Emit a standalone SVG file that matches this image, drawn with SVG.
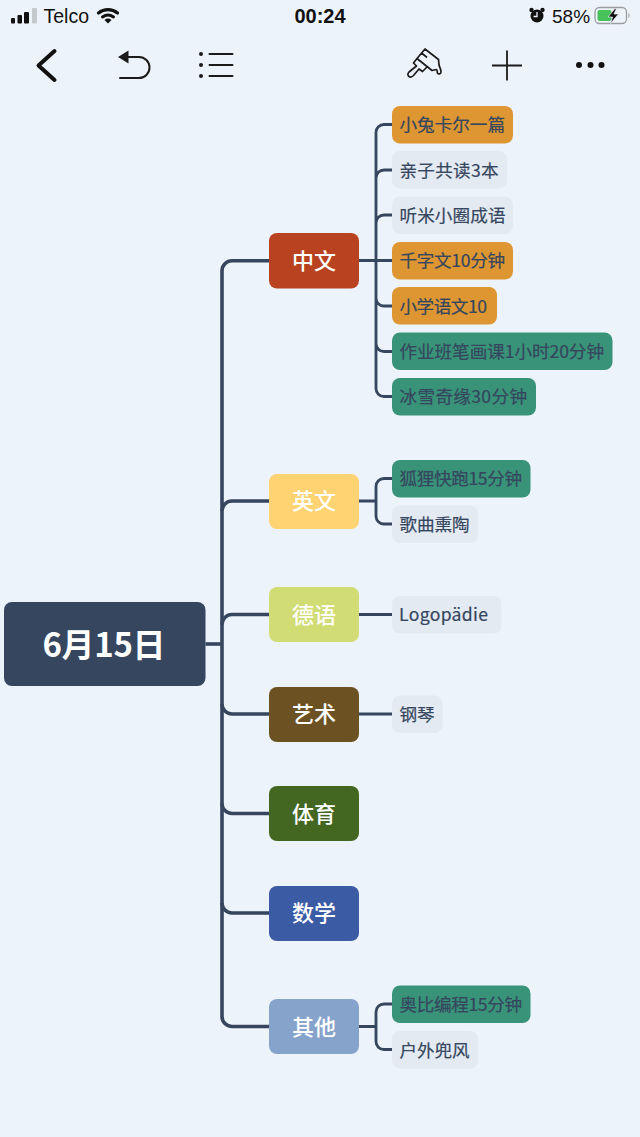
<svg xmlns="http://www.w3.org/2000/svg" width="640" height="1137" viewBox="0 0 640 1137">
<style>
text{font-family:"Noto Sans CJK SC","Noto Sans",sans-serif}
.st{font-family:"Liberation Sans",Arial,sans-serif;font-size:19.500px;fill:#111}
.ic{fill:none;stroke:#1b1b1b;stroke-width:2;stroke-linecap:round;stroke-linejoin:round}
.m{fill:none;stroke:#35465e;stroke-width:3.6}
.s{fill:none;stroke:#35465e;stroke-width:2.8}
.l1{font-size:22px;fill:#fff;text-anchor:middle;font-weight:500}
.l2{font-size:17.6px;fill:#35465e;font-weight:400;stroke:#35465e;stroke-width:.2}
.o{fill:#dd9632}.g{fill:#e4eaf2}.t{fill:#399378}
</style>
<rect width="640" height="1137" fill="#edf3fa"/>
<g id="statusbar">
<rect x="11" y="18" width="4" height="5.5" rx="1" fill="#111"/><rect x="17.500" y="15" width="4.500" height="8.500" rx="1" fill="#111"/><rect x="24" y="12" width="5" height="11.500" rx="1" fill="#111"/><rect x="32" y="8" width="5" height="15.500" rx="1" fill="#c4c9cd"/>
<text class="st" x="43.500" y="23">Telco</text>
<path d="M98.500 13a15 15 0 0 1 19 0" fill="none" stroke="#111" stroke-width="3.200" stroke-linecap="round"/><path d="M102.500 17a9.500 9.500 0 0 1 11 0" fill="none" stroke="#111" stroke-width="3" stroke-linecap="round"/><path d="M104.500 20a5.500 5.500 0 0 1 7 0l-3.500 3.500z" fill="#111"/>
<text class="st" x="320" y="23" text-anchor="middle" style="font-weight:700;font-size:20px">00:24</text>
<circle cx="537" cy="16" r="6.500" fill="#111"/><circle cx="531.500" cy="10" r="2.200" fill="#111"/><circle cx="542.500" cy="10" r="2.200" fill="#111"/><path d="M537 12v4.500h-3.500" fill="none" stroke="#edf3fa" stroke-width="1.300"/>
<text class="st" x="552" y="23" style="font-size:19px">58%</text>
<rect x="595" y="7.500" width="31.500" height="16" rx="4.500" fill="none" stroke="#9a9ea2" stroke-width="1.300"/><rect x="597.500" y="10" width="14" height="11" rx="2" fill="#47c25a"/><path d="M628.500 13c1.500.5 1.500 4.500 0 5z" fill="#9a9ea2"/><path d="M615 8.500l-7 8.500h4.500l-2 6.500 8-9.500h-4.500l2.500-5.500z" fill="#111" stroke="#edf3fa" stroke-width=".7"/>
</g>
<g id="toolbar">
<path d="M54.500 51 38.500 65.500 54.500 80" fill="none" stroke="#111" stroke-width="4" stroke-linecap="round" stroke-linejoin="round"/>
<path d="M128.500 50.500v13l-10.500-6.500z" fill="#1b1b1b"/><path class="ic" d="M127 57h12a10 10 0 0 1 0 21h-19"/>
<circle cx="201" cy="54" r="2" fill="#1b1b1b"/><circle cx="201" cy="65" r="2" fill="#1b1b1b"/><circle cx="201" cy="76" r="2" fill="#1b1b1b"/>
<path class="ic" d="M209.500 54h23M209.500 65h23M209.500 76h23"/>
<path class="ic" style="stroke-width:1.700" d="M425 49 417 58.500 432 70.500l4.500-1c1 0 .5 2.500 1 3.500 1 1.500 3.500 1 3.500-1 0-3-1.500-5-2-7l-.5-5.500zM421.500 53l5 4M417 58.500l-3.500 4.500 3 3-7.500 6c-1.500 1.500-1.500 3.500 0 4.500s3 .5 4.500-1l5.500-6.500 3.500 2.500 4-4"/>
<path d="M507 50.500v30M492 65.500h30" fill="none" stroke="#1b1b1b" stroke-width="1.800"/>
<circle cx="579" cy="65" r="3" fill="#111"/><circle cx="590.500" cy="65" r="3" fill="#111"/><circle cx="601.500" cy="65" r="3" fill="#111"/>
</g>
<g id="connectors">
<path class="m" d="M205.500 644H222"/>
<path class="m" d="M269 260.800H232a10 10 0 0 0-10 10V1016.500a10 10 0 0 0 10 10H269"/>
<path class="m" d="M222 511a10 10 0 0 1 10-10H269M222 624.500a10 10 0 0 1 10-10H269M222 704a10 10 0 0 0 10 10H269M222 803.500a10 10 0 0 0 10 10H269M222 903a10 10 0 0 0 10 10H269"/>
<path class="s" d="M359 260.500H392M392 124.500H384a8 8 0 0 0-8 8V388.500a8 8 0 0 0 8 8H392M376 178a8 8 0 0 1 8-8H392M376 223a8 8 0 0 1 8-8H392M376 298a8 8 0 0 0 8 8H392M376 343.500a8 8 0 0 0 8 8H392"/>
<path class="s" d="M359 501H376M392 478.500H384a8 8 0 0 0-8 8V516a8 8 0 0 0 8 8H392"/>
<path class="s" d="M359 614.500H392M359 714H392"/>
<path class="s" d="M359 1026.500H376M392 1004H384a8 8 0 0 0-8 8V1041.500a8 8 0 0 0 8 8H392"/>
</g>
<g id="root"><rect x="4" y="602" width="201.500" height="84" rx="8" fill="#35465e"/><text x="104" y="656.500" text-anchor="middle" font-size="33" font-weight="700" fill="#fff" textLength="123">6月15日</text></g>
<g id="n-zhongwen"><rect x="269" y="233" width="90" height="55.500" rx="8" fill="#b94221"/><text class="l1" x="314" y="268.500">中文</text></g>
<g id="n-yingwen"><rect x="269" y="474" width="90" height="55" rx="8" fill="#ffd372"/><text class="l1" x="314" y="509">英文</text></g>
<g id="n-deyu"><rect x="269" y="587" width="90" height="55" rx="8" fill="#d1dc75"/><text class="l1" x="314" y="622.500">德语</text></g>
<g id="n-yishu"><rect x="269" y="687" width="90" height="55" rx="8" fill="#6c5222"/><text class="l1" x="314" y="722">艺术</text></g>
<g id="n-tiyu"><rect x="269" y="786" width="90" height="55" rx="8" fill="#436721"/><text class="l1" x="314" y="821.500">体育</text></g>
<g id="n-shuxue"><rect x="269" y="886" width="90" height="55" rx="8" fill="#3c5ba5"/><text class="l1" x="314" y="921">数学</text></g>
<g id="n-qita"><rect x="269" y="999" width="90" height="55" rx="8" fill="#86a3cb"/><text class="l1" x="314" y="1034.500">其他</text></g>
<g id="c1"><rect class="o" x="392" y="106" width="121" height="37.500" rx="8"/><text class="l2" x="399.500" y="131" textLength="105.500">小兔卡尔一篇</text></g>
<g id="c2"><rect class="g" x="392" y="151" width="115" height="37.500" rx="8"/><text class="l2" x="399.500" y="176.500" textLength="99">亲子共读3本</text></g>
<g id="c3"><rect class="g" x="392" y="196.500" width="121" height="37.500" rx="8"/><text class="l2" x="399.500" y="222" textLength="106">听米小圈成语</text></g>
<g id="c4"><rect class="o" x="392" y="242" width="121" height="37.500" rx="8"/><text class="l2" x="399.500" y="267" textLength="105.500">千字文10分钟</text></g>
<g id="c5"><rect class="o" x="392" y="287" width="105" height="37.500" rx="8"/><text class="l2" x="399.500" y="312.500" textLength="87.500">小学语文10</text></g>
<g id="c6"><rect class="t" x="392" y="332.500" width="220.500" height="37.500" rx="8"/><text class="l2" x="399.500" y="358" textLength="204.500">作业班笔画课1小时20分钟</text></g>
<g id="c7"><rect class="t" x="392" y="378" width="144" height="37.500" rx="8"/><text class="l2" x="399.500" y="403" textLength="127.500">冰雪奇缘30分钟</text></g>
<g id="c8"><rect class="t" x="392" y="460" width="138.500" height="37.500" rx="8"/><text class="l2" x="399.500" y="485" textLength="122.500">狐狸快跑15分钟</text></g>
<g id="c9"><rect class="g" x="392" y="505.500" width="86" height="37.500" rx="8"/><text class="l2" x="399.500" y="531" textLength="70">歌曲熏陶</text></g>
<g id="c10"><rect class="g" x="392" y="596" width="109.500" height="37.500" rx="8"/><text class="l2" x="399" y="621" textLength="89">Logopädie</text></g>
<g id="c11"><rect class="g" x="392" y="695.500" width="50.500" height="37.500" rx="8"/><text class="l2" x="399.500" y="721" textLength="35">钢琴</text></g>
<g id="c12"><rect class="t" x="392" y="985.500" width="138.500" height="37.500" rx="8"/><text class="l2" x="399.500" y="1010.500" textLength="122.500">奥比编程15分钟</text></g>
<g id="c13"><rect class="g" x="392" y="1031" width="86" height="37.500" rx="8"/><text class="l2" x="399.500" y="1056.500" textLength="70">户外兜风</text></g>
</svg>
